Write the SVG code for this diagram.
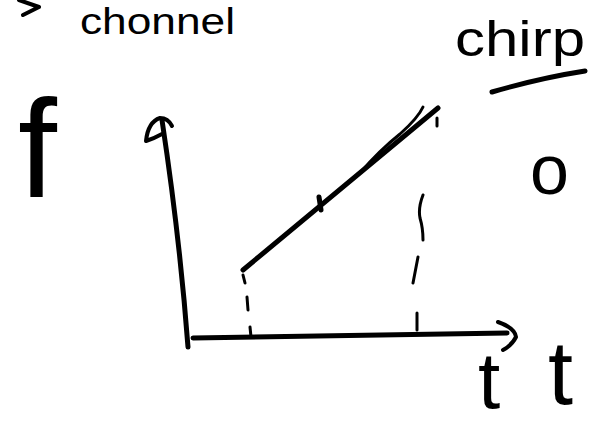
<svg xmlns="http://www.w3.org/2000/svg" width="613" height="430" viewBox="0 0 613 430">
<style>
.ink{fill:none;stroke:#000;stroke-linecap:round;stroke-linejoin:round}
.s5{stroke-width:5}
.s4{stroke-width:4}
.s3{stroke-width:3}
.hw{font-family:"Liberation Sans","DejaVu Sans",sans-serif;fill:#000}
</style>
<rect width="613" height="430" fill="#fff"/>
<g id="labels">
<path class="ink s4" d="M19,0 L39,7 L23,15"/>
<text class="hw" x="80" y="34" font-size="36" textLength="155" lengthAdjust="spacingAndGlyphs">chonnel</text>
<text class="hw" x="455" y="56" font-size="50" textLength="130" lengthAdjust="spacingAndGlyphs">chirp</text>
<path class="ink s5" d="M492,92 Q540,78 585,71"/>
<text class="hw" x="18" y="197" font-size="140">f</text>
<text class="hw" x="530" y="194" font-size="70">o</text>
<text class="hw" x="478" y="408" font-size="80">t</text>
<text class="hw" x="548" y="404" font-size="90">t</text>
</g>
<g id="axes">
<path class="ink s5" d="M188,347 Q180,240 162,120"/>
<path class="ink s4" d="M146,141 Q148,122 160,118 Q168,118 172,126 M146,141 Q155,138 162,134"/>
<path class="ink s5" d="M193,338 L507,333"/>
<path class="ink s4" d="M498,322 Q515,328 516,337 Q512,345 503,350"/>
</g>
<g id="chirp-line">
<path class="ink s5" d="M243,270 L438,108"/>
<path class="ink s3" d="M360,173 Q380,150 400,134 Q418,118 423,107"/>
<path class="ink s5" d="M319,197 L321,210"/>
</g>
<g id="guides">
<path class="ink s3" d="M243,275 L245,283 M247,297 L248,310 M250,327 L251,337"/>
<path class="ink s3" d="M423,195 Q418,208 420,218 Q423,228 423,240 M418,257 L413,283 M417,313 L417,330 M437,118 L437,126"/>
</g>
</svg>
